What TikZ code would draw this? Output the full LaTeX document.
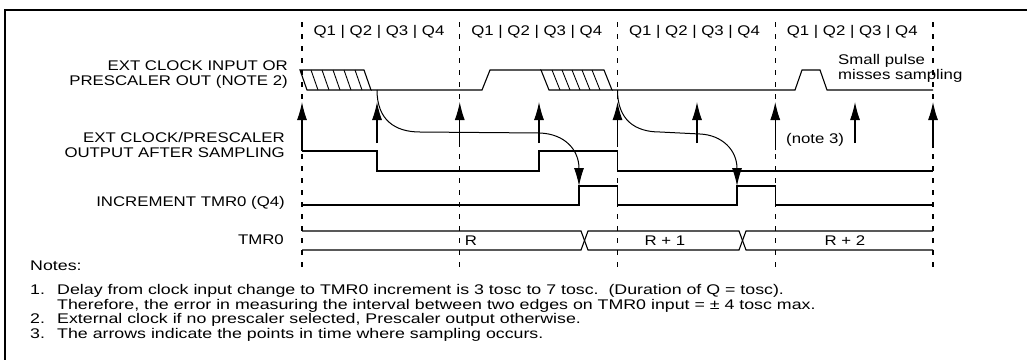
\documentclass[tikz,border=0pt]{standalone}
\usepackage{fontspec}
\setmainfont{Liberation Sans}[FakeStretch=1.2]
\newfontfamily\notefont{Liberation Sans}[FakeStretch=1.27]
\usetikzlibrary{arrows.meta}

\begin{document}
\begin{tikzpicture}[x=1pt, y=-1pt,
        sig/.style={line width=1.1pt},
        grid/.style={line width=1.1pt, dash pattern=on 5pt off 7pt},
        sample/.style={-{Latex[length=18pt,width=10pt]}, line width=1.1pt},
        delay/.style={-{Latex[length=18pt,width=10pt]}, line width=1pt},
        hatch/.style={line width=0.9pt},
        lbl/.style={anchor=east, align=right, inner sep=0pt, font=\fontsize{14}{15}\selectfont},
        txt/.style={anchor=west, align=left, inner sep=0pt, font=\fontsize{14}{15}\selectfont},
        note/.style={anchor=base west, inner sep=0pt, font=\notefont\fontsize{14}{15}\selectfont}
    ]
        \useasboundingbox (0,0) rectangle (1027,360);
        \draw[line width=1.6pt] (1027,10) -- (5,10) -- (5,360);

        % cycle boundaries and Q phases
        \foreach \x in {302,459.75,617.5,775.25,933}
            \draw[grid] (\x,22) -- (\x,272);
        \foreach \x/\n in {302/qa,459.75/qb,617.5/qc,775.25/qd}
            \node[inner sep=0pt, font=\fontsize{14}{15}\selectfont] (\n) at (\x+77,32) {Q1 | Q2 | Q3 | Q4};

        % signal names
        \node[lbl] (clkin) at (288,75) {EXT CLOCK INPUT OR\\PRESCALER OUT (NOTE 2)};
        \node[lbl] (sampled) at (285,145) {EXT CLOCK/PRESCALER\\OUTPUT AFTER SAMPLING};
        \node[lbl] (incr) at (285,203) {INCREMENT TMR0 (Q4)};
        \node[lbl] (tmr) at (284,240) {TMR0};

        % ext clock input
        \draw[sig] (300,70) -- (364,70) -- (371,90) -- (307,90) -- cycle;
        \foreach \x in {311,322,333,344,355}
            \draw[hatch] (\x,70) -- (\x+7,90);
        \draw[sig] (371,90) -- (482,90) -- (490,70) -- (541,70);
        \draw[sig] (541,70) -- (604,70) -- (612,90) -- (549,90) -- cycle;
        \foreach \x in {552,562,572,582,592}
            \draw[hatch] (\x,70) -- (\x+8,90);
        \draw[sig] (612,90) -- (795,90) -- (802,70) -- (820,70) -- (827,90) -- (933,90);

        % sampled output
        \draw[sig] (302,151) -- (377,151) -- (377,171) -- (539,171) -- (539,151)
            -- (617.5,151) -- (617.5,171) -- (933,171);

        % increment TMR0
        \draw[sig] (302,205) -- (579,205) -- (579,186) -- (617.5,186) -- (617.5,205)
            -- (737,205) -- (737,186) -- (775.25,186) -- (775.25,205) -- (933,205);

        % TMR0 bus
        \draw[sig] (302,231) -- (581,231) -- (588,250) -- (739,250) -- (746,231) -- (933,231);
        \draw[sig] (302,250) -- (581,250) -- (588,231) -- (739,231) -- (746,250) -- (933,250);
        \node[inner sep=0pt, font=\fontsize{14}{15}\selectfont] (r0) at (471,241) {R};
        \node[inner sep=0pt, font=\fontsize{14}{15}\selectfont] (r1) at (665,241) {R + 1};
        \node[inner sep=0pt, font=\fontsize{14}{15}\selectfont] (r2) at (845,241) {R + 2};

        % sampling points
        \foreach \x/\y in {302/151,377/143,459.75/143,539/143,617.5/143,697/143,775.25/150,855/143,933/148}
            \draw[sample] (\x,\y) -- (\x,102);

        % delay from input edge to increment
        \coordinate (edge1) at (377,90);
        \coordinate (inc1) at (579,186);
        \coordinate (edge2) at (617.5,90);
        \coordinate (inc2) at (737,186);
        \draw[delay] (edge1) .. controls (377,120) and (395,132) .. (420,132) -- (540,133)
            .. controls (565,134) and (579,150) .. (inc1);
        \draw[delay] (edge2) .. controls (617.5,120) and (635,132) .. (660,132) -- (700,134)
            .. controls (722,135) and (737,150) .. (inc2);

        \node[txt, anchor=north west] (pulse) at (838,54) {Small pulse\\misses sampling};
        \node[txt] (note3) at (786,140) {(note 3)};

        % notes
        \node[note] (notes) at (30,270) {Notes:};
        \node[note] (n1) at (30,294.5) {1.};
        \node[note] (t1) at (57,294.5) {Delay from clock input change to TMR0 increment is 3 tosc to 7 tosc.\ \ (Duration of Q = tosc).};
        \node[note] (t1b) at (57,309.2) {Therefore, the error in measuring the interval between two edges on TMR0 input = ± 4 tosc max.};
        \node[note] (n2) at (30,323.8) {2.};
        \node[note] (t2) at (57,323.8) {External clock if no prescaler selected, Prescaler output otherwise.};
        \node[note] (n3) at (30,338.5) {3.};
        \node[note] (t3) at (57,338.5) {The arrows indicate the points in time where sampling occurs.};
    \end{tikzpicture}
\end{document}
